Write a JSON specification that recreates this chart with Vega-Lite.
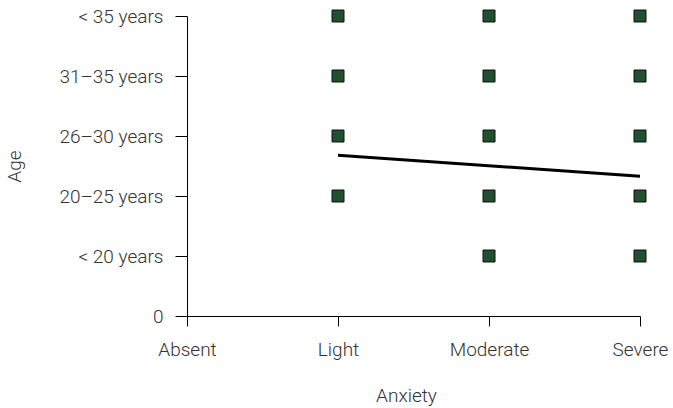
{
  "$schema": "https://vega.github.io/schema/vega-lite/v6.json",
  "autosize": {"type": "none"},
  "padding": {"left": 187, "top": 16, "right": 33, "bottom": 92},
  "width": 453,
  "height": 300,
  "config": {
    "view": {"stroke": null},
    "font": "Roboto",
    "axis": {
      "grid": false,
      "domainColor": "#000",
      "tickColor": "#000",
      "labelColor": "#333",
      "titleColor": "#333",
      "labelFont": "Roboto",
      "titleFont": "Roboto",
      "labelFontSize": 19,
      "titleFontSize": 19,
      "titleFontWeight": 300,
      "labelFontWeight": 300
    }
  },
  "datasets": {
    "points": [
      {"anxiety": 1, "age": 2}, {"anxiety": 1, "age": 3}, {"anxiety": 1, "age": 4}, {"anxiety": 1, "age": 5},
      {"anxiety": 2, "age": 1}, {"anxiety": 2, "age": 2}, {"anxiety": 2, "age": 3}, {"anxiety": 2, "age": 4}, {"anxiety": 2, "age": 5},
      {"anxiety": 3, "age": 1}, {"anxiety": 3, "age": 2}, {"anxiety": 3, "age": 3}, {"anxiety": 3, "age": 4}, {"anxiety": 3, "age": 5}
    ],
    "trend": [
      {"anxiety": 1, "age": 2.68},
      {"anxiety": 3, "age": 2.33}
    ]
  },
  "layer": [
    {
      "data": {"name": "points"},
      "mark": {"type": "square", "size": 144, "filled": true, "fill": "#21502e", "stroke": "#111", "strokeWidth": 1, "opacity": 1},
      "encoding": {
        "x": {
          "field": "anxiety", "type": "quantitative",
          "scale": {"domain": [0, 3], "nice": false, "zero": false},
          "axis": {
            "title": "Anxiety", "values": [0, 1, 2, 3], "tickSize": 10, "labelPadding": 14,
            "labelExpr": "['Absent','Light','Moderate','Severe'][datum.value]",
            "titlePadding": 27, "titleX": 219, "labelFlush": false
          }
        },
        "y": {
          "field": "age", "type": "quantitative",
          "scale": {"domain": [0, 5], "nice": false},
          "axis": {
            "title": "Age", "values": [0, 1, 2, 3, 4, 5], "tickSize": 12, "labelPadding": 12,
            "labelExpr": "['0','< 20 years','20\u201325 years','26\u201330 years','31\u201335 years','< 35 years'][datum.value]",
            "titlePadding": 34, "labelFlush": false
          }
        }
      }
    },
    {
      "data": {"name": "trend"},
      "mark": {"type": "line", "color": "#000", "strokeWidth": 3},
      "encoding": {
        "x": {"field": "anxiety", "type": "quantitative"},
        "y": {"field": "age", "type": "quantitative"}
      }
    }
  ]
}
